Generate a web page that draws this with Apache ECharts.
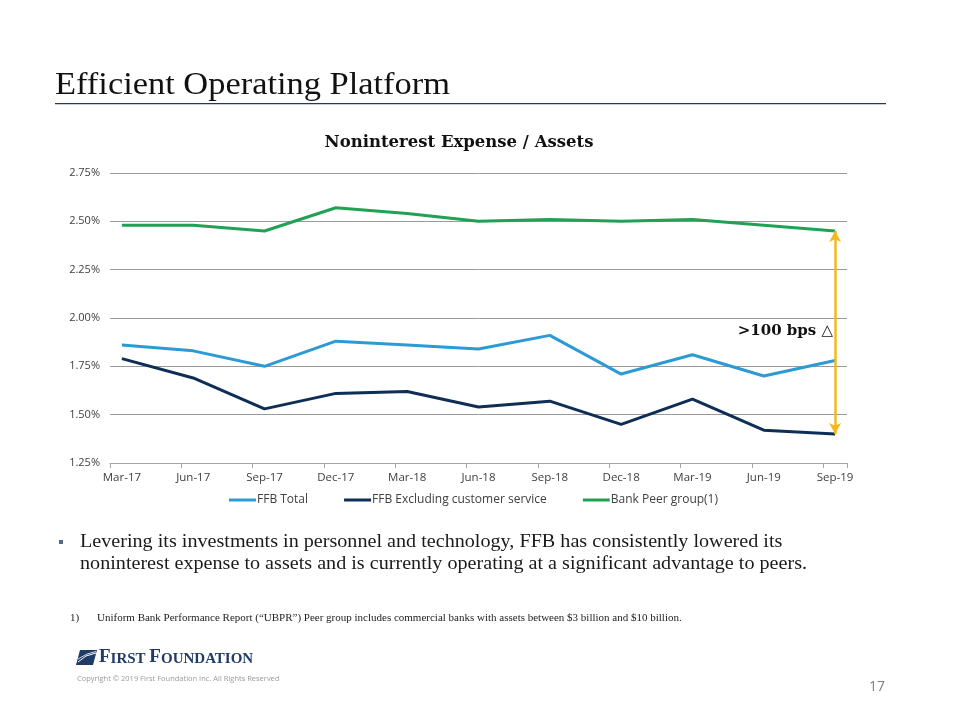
<!DOCTYPE html>
<html>
<head>
<meta charset="utf-8">
<script src="https://cdn.jsdelivr.net/npm/echarts@6/dist/echarts.min.js"></script>
<style>
html,body{margin:0;padding:0;background:#fff;}
#chart{width:960px;height:720px;}
</style>
</head>
<body>
<div id="chart"></div>
<script>
// Quarter labels (x axis)
const quarters = ['Mar-17','Jun-17','Sep-17','Dec-17','Mar-18','Jun-18','Sep-18','Dec-18','Mar-19','Jun-19','Sep-19'];
// Series values (%)
const ffbTotal = [1.86,1.83,1.75,1.88,1.86,1.84,1.91,1.71,1.81,1.70,1.78];
const ffbExcl  = [1.79,1.69,1.53,1.61,1.62,1.54,1.57,1.45,1.58,1.42,1.40];
const peer     = [2.48,2.48,2.45,2.57,2.54,2.50,2.51,2.50,2.51,2.48,2.45];
// Y axis tick settings
const yMin = 1.25, yMax = 2.75, yStep = 0.25;

// Monthly date axis (Excel-style): each quarter label followed by two unlabeled months
const months = [];
quarters.forEach((q, i) => { months.push(q); if (i < quarters.length - 1) { months.push(''); months.push(''); } });
function toMonthly(arr) {
  const out = new Array(months.length).fill(null);
  arr.forEach((v, i) => { out[i * 3] = v; });
  return out;
}
const lastIdx = (quarters.length - 1) * 3;

const C_BLUE = '#2C9AD4', C_NAVY = '#0E2E55', C_GREEN = '#20A153', C_GOLD = '#F2B91E';
const SANS = '"Open Sans", "Noto Sans", sans-serif';
const SERIF = '"Liberation Serif", "DejaVu Serif", serif';
const DSERIF = '"DejaVu Serif", serif';

const chart = echarts.init(document.getElementById('chart'), null, {renderer: 'canvas'});

const lineSeries = (name, data, color) => ({
  name, type: 'line', data: toMonthly(data), connectNulls: true,
  symbol: 'none', lineStyle: {color, width: 3}, itemStyle: {color},
  z: 3
});

const option = {
  backgroundColor: '#fff',
  animation: false,
  grid: {left: 110, right: 113, top: 173, bottom: 257, containLabel: false},
  xAxis: {
    type: 'category', data: months, boundaryGap: true,
    axisLine: {lineStyle: {color: '#A6A6A6', width: 1}},
    axisTick: {show: true, interval: 2, length: 5, lineStyle: {color: '#A6A6A6'}},
    axisLabel: {interval: 2, color: '#404040', fontSize: 11.5, fontFamily: SANS, margin: 9}
  },
  yAxis: {
    type: 'value', min: yMin, max: yMax, interval: yStep,
    axisLine: {show: false}, axisTick: {show: false},
    splitLine: {lineStyle: {color: '#9A9A9A', width: 1}},
    axisLabel: {color: '#404040', fontSize: 11, fontFamily: SANS, margin: 10,
      formatter: v => v.toFixed(2) + '%'}
  },
  legend: {
    top: 489, left: 224,
    itemWidth: 27, itemHeight: 3, itemGap: 36, icon: 'rect',
    textStyle: {color: '#404040', fontSize: 12, fontFamily: SANS, padding: [0, 0, 0, -4]},
    data: ['FFB Total', 'FFB Excluding customer service', 'Bank Peer group(1)']
  },
  series: [
    lineSeries('FFB Total', ffbTotal, C_BLUE),
    lineSeries('FFB Excluding customer service', ffbExcl, C_NAVY),
    Object.assign(lineSeries('Bank Peer group(1)', peer, C_GREEN), {
      markLine: {
        silent: true, symbol: ['arrow', 'arrow'], symbolSize: [9, 11],
        label: {show: false},
        lineStyle: {color: C_GOLD, width: 2.5, type: 'solid'},
        data: [[{coord: [lastIdx, peer[peer.length - 1]]}, {coord: [lastIdx, ffbExcl[ffbExcl.length - 1]]}]]
      }
    })
  ],
  graphic: [
    {type: 'text', x: 55, y: 70, scaleX: 1.11, style: {text: 'Efficient Operating Platform', font: '31px ' + SERIF, fill: '#111'}},
    {type: 'rect', shape: {x: 55, y: 103, width: 831, height: 1.2}, style: {fill: '#1F3D5A'}},
    {type: 'text', x: 459, y: 134, style: {text: 'Noninterest Expense / Assets', font: 'bold 16.5px ' + DSERIF, fill: '#111', align: 'center'}},
    {type: 'text', x: 833, y: 324, style: {text: '>100 bps \u25B3', font: 'bold 15px ' + DSERIF, fill: '#111', align: 'right'}},
    {type: 'rect', shape: {x: 59, y: 540, width: 4, height: 4}, style: {fill: '#4F6A85'}},
    {type: 'text', x: 80, y: 531, scaleX: 1.06, style: {text: 'Levering its investments in personnel and technology, FFB has consistently lowered its\nnoninterest expense to assets and is currently operating at a significant advantage to peers.', font: '19px ' + SERIF, fill: '#1a1a1a', lineHeight: 22}},
    {type: 'text', x: 70, y: 613, style: {text: '1)', font: '11px ' + SERIF, fill: '#222'}},
    {type: 'text', x: 97, y: 613, style: {text: 'Uniform Bank Performance Report (\u201CUBPR\u201D) Peer group includes commercial banks with assets between $3 billion and $10 billion.', font: '11px ' + SERIF, fill: '#222'}},
    // logo
    {type: 'polygon', shape: {points: [[80, 650], [97, 650], [93, 665], [76, 665]]}, style: {fill: '#1F3B68'}},
    {type: 'polyline', shape: {points: [[78, 662], [86, 656], [96, 653]]}, style: {stroke: '#fff', lineWidth: 1, fill: null}},
    {type: 'polyline', shape: {points: [[78, 659], [87, 654], [96, 651.5]]}, style: {stroke: '#fff', lineWidth: 0.8, fill: null}},
    {type: 'text', x: 99, y: 648, style: {
      text: '{b|F}{s|IRST }{b|F}{s|OUNDATION}',
      rich: {b: {font: 'bold 19px ' + SERIF, fill: '#1F3B68', verticalAlign: 'bottom'}, s: {font: 'bold 15px ' + SERIF, fill: '#1F3B68', verticalAlign: 'bottom'}}
    }},
    {type: 'text', x: 77, y: 675, style: {text: 'Copyright \u00A9 2019 First Foundation Inc. All Rights Reserved', font: '7.5px ' + SANS, fill: '#9A9A9A'}},
    {type: 'text', x: 869, y: 680, style: {text: '17', font: '14px ' + SANS, fill: '#7F7F7F'}}
  ]
};
chart.setOption(option);
</script>
</body>
</html>
